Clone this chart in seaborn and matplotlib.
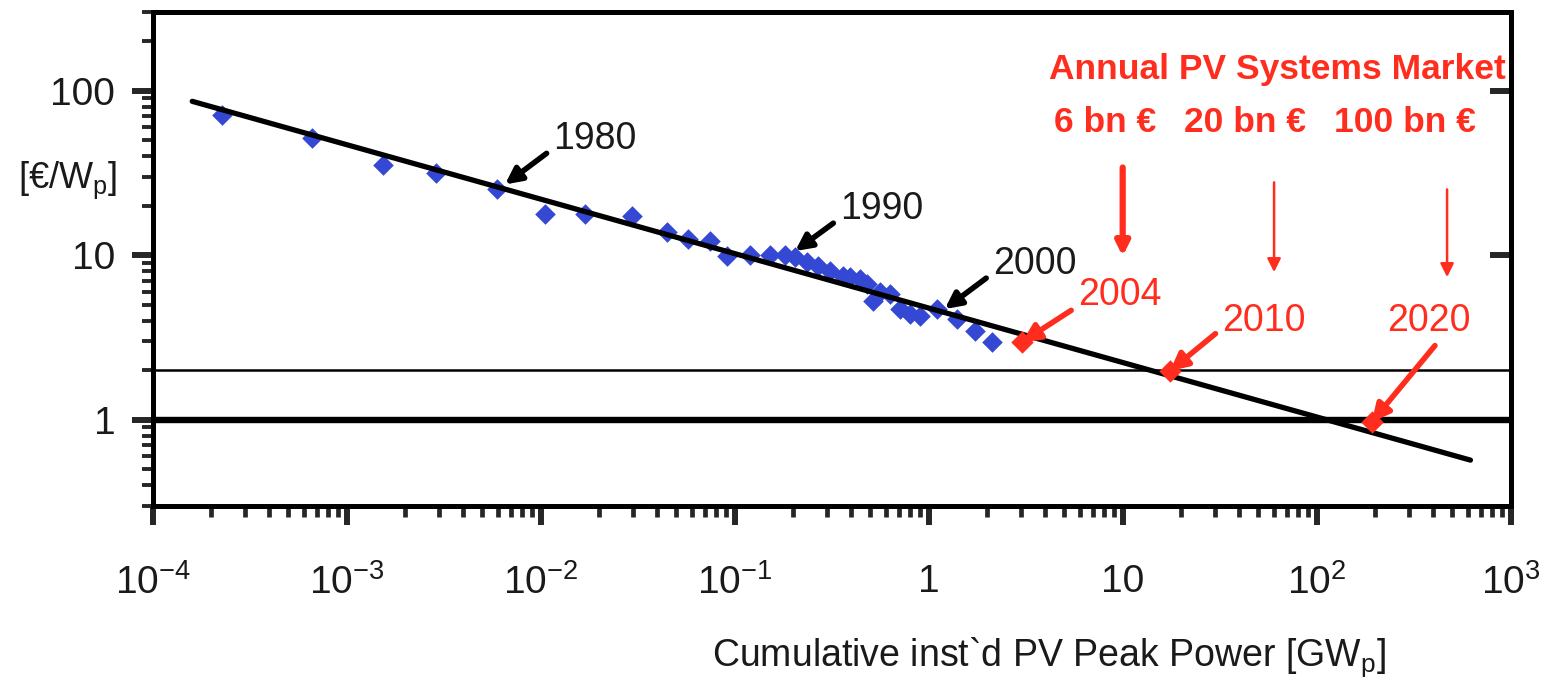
import pandas as pd
import seaborn as sns
import matplotlib.pyplot as plt

# Cumulative installed PV power [GWp] vs. module price [EUR/Wp] (learning curve)
cum_power = [2.27e-4, 6.62e-4, 1.54e-3, 2.88e-3, 5.96e-3, 1.05e-2, 1.69e-2, 2.96e-2,
             4.48e-2, 5.74e-2, 7.46e-2, 9.12e-2, 0.12, 0.152, 0.182, 0.205, 0.236,
             0.269, 0.31, 0.361, 0.393, 0.443, 0.481, 0.516, 0.561, 0.633, 0.711,
             0.802, 0.902, 1.10, 1.40, 1.73, 2.12]
price = [71.5, 51.2, 35.1, 31.4, 25.1, 17.7, 17.7, 17.2, 13.8, 12.5, 12.2, 9.86,
         10.1, 10.1, 10.1, 9.8, 9.07, 8.58, 8.0, 7.46, 7.36, 7.16, 6.67, 5.26, 6.0,
         5.81, 4.71, 4.39, 4.27, 4.71, 4.09, 3.46, 2.97]

# fitted learning curve (end points)
fit_power = [1.6e-4, 620]
fit_price = [86, 0.57]

# past years marked on the curve
year_labels = ["1980", "1990", "2000"]
year_x = [6.55e-3, 0.205, 1.21]
year_y = [26.9, 10.6, 4.71]
year_text_x = [1.16e-2, 0.349, 2.14]
year_text_y = [50.5, 19.0, 8.82]

# projected years
future_labels = ["2004", "2010", "2020"]
future_x = [3.03, 17.5, 192]
future_y = [2.97, 1.98, 0.97]
future_text_x = [5.88, 32.5, 230]
future_text_y = [5.72, 3.98, 3.98]

# annual market sizes
market_labels = ["6 bn €", "20 bn €", "100 bn €"]
market_x = [10, 60.3, 470]
market_label_x = [8.1, 42.7, 285]
market_top = [34.1, 27.7, 25.1]
market_bottom = [9.86, 7.89, 7.36]

x_ticks = [1e-4, 1e-3, 1e-2, 1e-1, 1, 10, 1e2, 1e3]
x_ticklabels = ["$10^{-4}$", "$10^{-3}$", "$10^{-2}$", "$10^{-1}$", "1", "10",
                "$10^{2}$", "$10^{3}$"]
y_ticks = [1, 10, 100]
y_ticklabels = ["1", "10", "100"]

df = pd.DataFrame({"power": cum_power, "price": price})
fit = pd.DataFrame({"power": fit_power, "price": fit_price})
future = pd.DataFrame({"power": future_x, "price": future_y})

sns.set_style("white")
plt.rcParams["font.family"] = ["Liberation Sans", "DejaVu Sans"]
plt.rcParams["mathtext.fontset"] = "custom"
plt.rcParams["mathtext.rm"] = "Liberation Sans"
plt.rcParams["mathtext.it"] = "Liberation Sans"

RED = "#ff2d1e"
BLUE = "#3448d4"
TXT = "#1a1a1a"

fig = plt.figure(figsize=(15.45, 6.84), dpi=100)
ax = fig.add_axes([0.0988, 0.2602, 0.879, 0.7223])
ax.set_xscale("log")
ax.set_yscale("log")

# horizontal reference lines at 2 and 1 EUR/Wp
ax.axhline(2, color="black", lw=1.8, zorder=1)
ax.axhline(1, color="black", lw=4.6, zorder=1)

sns.scatterplot(data=df, x="power", y="price", ax=ax, marker="D", s=110,
                color=BLUE, edgecolor=BLUE, linewidth=0, zorder=2)
sns.lineplot(data=fit, x="power", y="price", ax=ax, color="black", lw=3.8, zorder=3)
sns.scatterplot(data=future, x="power", y="price", ax=ax, marker="D", s=130,
                color=RED, edgecolor=RED, linewidth=0, zorder=4)

ax.set_xlim(1e-4, 1e3)
ax.set_ylim(0.3, 300)

# year annotations
for lab, tx, ty, px, py in zip(year_labels, year_text_x, year_text_y, year_x, year_y):
    ax.annotate(lab, xy=(px, py), xytext=(tx, ty), fontsize=27, color=TXT,
                ha="left", va="center",
                arrowprops=dict(arrowstyle="-|>", color="black", lw=4,
                                mutation_scale=24, shrinkA=3, shrinkB=0,
                                relpos=(0, 0.25)))

future_relpos = [(0, 0.2), (0, 0.3), (0.64, 0)]
for lab, tx, ty, px, py, rp in zip(future_labels, future_text_x, future_text_y,
                                   future_x, future_y, future_relpos):
    ax.annotate(lab, xy=(px, py), xytext=(tx, ty), fontsize=27, color=RED,
                ha="left", va="center",
                arrowprops=dict(arrowstyle="-|>", color=RED, lw=4,
                                mutation_scale=26, shrinkA=3, shrinkB=0,
                                relpos=rp))

# market size text and arrows
ax.text(62.4, 134, "Annual PV Systems Market", color=RED, fontsize=25.5,
        fontweight="bold", ha="center", va="center")
for lab, lx in zip(market_labels, market_label_x):
    ax.text(lx, 64, lab, color=RED, fontsize=25.5, fontweight="bold",
            ha="center", va="center")
market_lw = [4.5, 1.8, 1.8]
for mx, top, bot, lw in zip(market_x, market_top, market_bottom, market_lw):
    ax.annotate("", xy=(mx, bot), xytext=(mx, top),
                arrowprops=dict(arrowstyle="-|>", color=RED, lw=lw,
                                mutation_scale=20, shrinkA=0, shrinkB=0))

# axes styling
for sp in ax.spines.values():
    sp.set_linewidth(3.6)
    sp.set_color("black")

ax.set_xticks(x_ticks)
ax.set_xticklabels(x_ticklabels)
ax.set_yticks(y_ticks)
ax.set_yticklabels(y_ticklabels)
ax.tick_params(axis="x", which="major", direction="out", length=14, width=4.3,
               pad=28, labelsize=28, labelcolor=TXT, bottom=True)
ax.tick_params(axis="x", which="minor", direction="out", length=8, width=3.4,
               bottom=True)
ax.tick_params(axis="y", which="major", direction="out", length=15, width=4.3,
               pad=12, labelsize=28, labelcolor=TXT, left=True)
ax.tick_params(axis="y", which="minor", direction="out", length=8, width=2.8,
               left=True)

# inward ticks on the right spine
sec = ax.secondary_yaxis("right")
sec.set_yticks([10, 100])
sec.set_yticklabels([])
sec.tick_params(which="major", direction="in", length=15, width=4.3)
sec.tick_params(which="minor", length=0)
sec.spines["right"].set_linewidth(3.6)

ax.set_xlabel("Cumulative inst`d PV Peak Power [GW$_p$]", fontsize=27, color=TXT)
ax.xaxis.set_label_coords(0.66, -0.262)
ax.xaxis.label.set_va("top")
ax.set_ylabel("[€/W$_p$]", fontsize=26, color=TXT, rotation=0)
ax.yaxis.set_label_coords(-0.063, 0.66)
ax.yaxis.label.set_ha("center")
ax.yaxis.label.set_va("center")

fig.savefig("out.png", dpi=100)
